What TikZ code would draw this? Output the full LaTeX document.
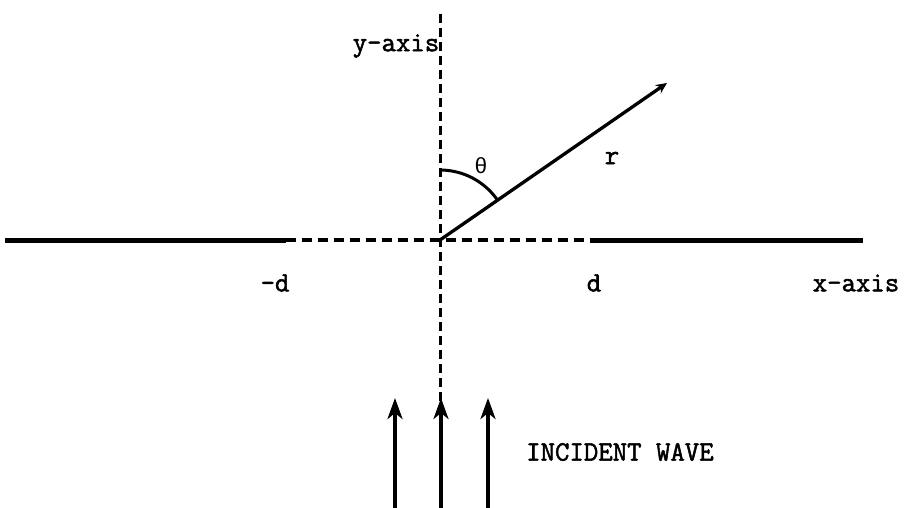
\documentclass[tikz,border=0pt]{standalone}
\usepackage{fontspec}
\newfontfamily\typer{Latin Modern Mono}[FakeBold=1.8]
\newfontfamily\greektyper{Liberation Mono}
\usetikzlibrary{positioning, arrows.meta, calc}

\begin{document}
\begin{tikzpicture}[
    x=1pt, y=1pt,
    axis/.style={line width=5pt},
    gap/.style={line width=3.5pt, dash pattern=on 10pt off 6pt},
    yline/.style={line width=3pt, dash pattern=on 9pt off 5pt},
    ray/.style={-{Stealth[length=11pt, width=10pt]}, line width=3.3pt},
    wave/.style={-{Stealth[length=21pt, width=15pt, inset=6pt]}, line width=3.5pt},
    lbl/.style={font=\typer\fontsize{28}{30}\selectfont, inner sep=0pt}
]
\useasboundingbox (0,0) rectangle (911,-508);

% Points
\coordinate (origin) at (440,-240);
\coordinate (xleft) at (5,-240);
\coordinate (dleft) at (286,-240);
\coordinate (dright) at (590,-240);
\coordinate (xright) at (863,-240);
\coordinate (ytop) at (440,-14);
\coordinate (ybot) at (440,-432);
\coordinate (rtip) at (667,-83);

% Nodes
\node (ylabel) [lbl] at (396,-46) {y-axis};
\node (mdlabel) [lbl] at (275,-283) {-d};
\node (dlabel) [lbl] at (594,-283) {d};
\node (xlabel) [lbl] at (856,-283) {x-axis};
\node (rlabel) [lbl] at (612,-158) {r};
\node (thlabel) [lbl, font=\greektyper\fontsize{22}{24}\selectfont] at (481,-166) {θ};
\node (wavelabel) [lbl, anchor=west] at (526,-452) {INCIDENT WAVE};

\coordinate (wa) at (395,-508);
\coordinate (wb) at (441,-508);
\coordinate (wc) at (488,-508);
\coordinate (wta) at (395,-398);
\coordinate (wtb) at (441,-398);
\coordinate (wtc) at (488,-398);

% Connections
\draw [axis] (xleft) -- (dleft);
\draw [gap] (dleft) -- (dright);
\draw [axis] (dright) -- (xright);
\draw [yline] (ytop) -- (ybot);
\draw [ray] (origin) -- (rtip);
\draw [line width=3pt] ($(origin)+(0,70)$) arc[start angle=90, end angle=34.6, radius=70];
\draw [wave] (wa) -- (wta);
\draw [wave] (wb) -- (wtb);
\draw [wave] (wc) -- (wtc);

\end{tikzpicture}
\end{document}
